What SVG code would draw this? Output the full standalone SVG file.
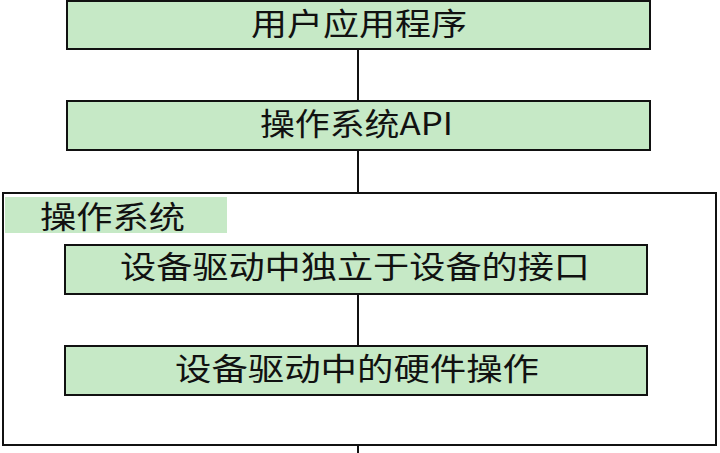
<svg xmlns="http://www.w3.org/2000/svg" width="720" height="453" viewBox="0 0 720 453">
<style>
.box{fill:#c6e9c6;stroke:#111;stroke-width:2}
.lbl{font-family:"Noto Sans CJK SC","Noto Sans",sans-serif;font-size:31px;fill:#111}
.wire{stroke:#111;stroke-width:2;fill:none}
</style>
<rect width="720" height="453" fill="#fff"/>
<g id="os">
<rect x="3" y="193" width="713" height="252" fill="#fff" stroke="#111" stroke-width="2"/>
<rect x="5" y="197" width="222" height="36" fill="#c6e9c6"/>
<text class="lbl" x="40" y="228" textLength="145" lengthAdjust="spacingAndGlyphs">操作系统</text>
</g>
<g id="connectors">
<line class="wire" x1="358" y1="49" x2="358" y2="101"/>
<line class="wire" x1="358" y1="150" x2="358" y2="193"/>
<line class="wire" x1="358" y1="294" x2="358" y2="346"/>
<line class="wire" x1="358" y1="445" x2="358" y2="453"/>
</g>
<g id="app">
<rect class="box" x="67" y="1" width="583" height="48"/>
<text class="lbl" x="251" y="35" textLength="216" lengthAdjust="spacingAndGlyphs">用户应用程序</text>
</g>
<g id="api">
<rect class="box" x="67" y="101" width="583" height="49"/>
<text class="lbl" x="260" y="135" textLength="193" lengthAdjust="spacingAndGlyphs">操作系统API</text>
</g>
<g id="driver-interface">
<rect class="box" x="65" y="245" width="582" height="49"/>
<text class="lbl" x="120" y="278" textLength="470" lengthAdjust="spacingAndGlyphs">设备驱动中独立于设备的接口</text>
</g>
<g id="driver-hardware">
<rect class="box" x="65" y="346" width="582" height="49"/>
<text class="lbl" x="175" y="380" textLength="364" lengthAdjust="spacingAndGlyphs">设备驱动中的硬件操作</text>
</g>
</svg>
